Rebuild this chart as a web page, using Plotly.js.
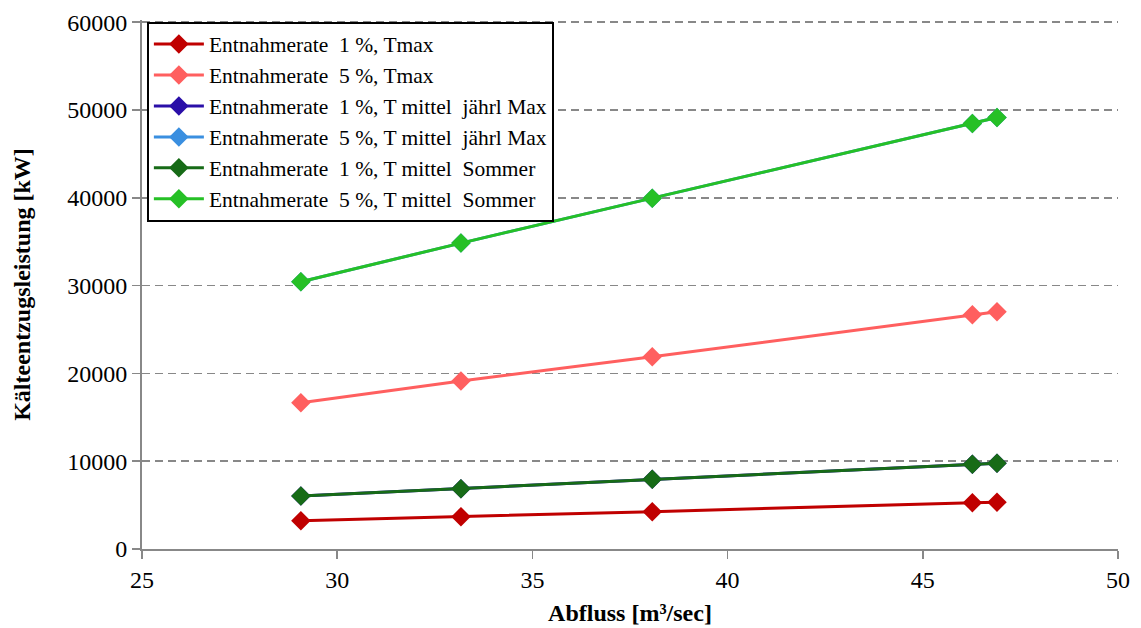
<!DOCTYPE html>
<html>
<head>
<meta charset="utf-8">
<script src="https://cdn.plot.ly/plotly-3.0.1.min.js"></script>
<style>html,body{margin:0;padding:0;background:#fff;}#chart{width:1141px;height:628px;}</style>
</head>
<body>
<div id="chart"></div>
<script>
const abfluss = [29.07, 33.17, 38.07, 46.27, 46.9];
const names = [
  "Entnahmerate  1 %, Tmax",
  "Entnahmerate  5 %, Tmax",
  "Entnahmerate  1 %, T mittel  jährl Max",
  "Entnahmerate  5 %, T mittel  jährl Max",
  "Entnahmerate  1 %, T mittel  Sommer",
  "Entnahmerate  5 %, T mittel  Sommer"
];
const e1Tmax = [3230, 3680, 4250, 5280, 5330];
const e5Tmax = [16660, 19130, 21900, 26680, 27020];
const e1Jahr = [6030, 6870, 7930, 9640, 9760];
const e5Jahr = [30430, 34840, 39960, 48470, 49150];
const e1Sommer = [6030, 6870, 7930, 9640, 9760];
const e5Sommer = [30430, 34840, 39960, 48470, 49150];
const colors = ["#C00000", "#FF5F5F", "#2A0FA8", "#3A8FE0", "#176B17", "#26C026"];
const series = [e1Tmax, e5Tmax, e1Jahr, e5Jahr, e1Sommer, e5Sommer];
const FONT = "Liberation Serif";

const traces = series.map((ys, i) => ({
  x: abfluss, y: ys, name: names[i], type: "scatter", mode: "lines+markers",
  line: {color: colors[i], width: 3},
  marker: {symbol: "diamond", size: 15, color: colors[i]},
  legendgroup: "g" + i
}));

const layout = {
  width: 1141, height: 628,
  margin: {l: 142, r: 23, t: 20, b: 79},
  paper_bgcolor: "#fff", plot_bgcolor: "#fff",
  font: {family: FONT, color: "#000"},
  showlegend: true,
  legend: {
    x: 0.005, y: 0.997, xanchor: "left", yanchor: "top",
    bgcolor: "#fff", bordercolor: "#000", borderwidth: 2,
    font: {family: FONT, size: 21.5, color: "#000"},
    tracegroupgap: 0, itemwidth: 50
  },
  xaxis: {
    range: [25, 50], tickvals: [25, 30, 35, 40, 45, 50],
    ticks: "outside", ticklen: 8, tickcolor: "#888", tickwidth: 1.5,
    showline: true, linecolor: "#888", linewidth: 2,
    showgrid: false, zeroline: false,
    tickfont: {size: 24, family: FONT},
    title: {text: "<b>Abfluss [m³/sec]</b>", font: {size: 24, family: FONT}, standoff: 12}
  },
  yaxis: {
    range: [0, 60250], tickvals: [0, 10000, 20000, 30000, 40000, 50000, 60000],
    ticktext: ["0", "10000", "20000", "30000", "40000", "50000", "60000"],
    ticks: "outside", ticklen: 8, tickcolor: "#888", tickwidth: 1.5,
    showline: true, linecolor: "#888", linewidth: 2,
    showgrid: true, gridcolor: "#888", griddash: "8px,5px", gridwidth: 1.5,
    zeroline: false,
    tickfont: {size: 24, family: FONT},
    title: {text: "<b>Kälteentzugsleistung [kW]</b>", font: {size: 24, family: FONT}, standoff: 30}
  }
};
Plotly.newPlot("chart", traces, layout, {displayModeBar: false, staticPlot: true});
</script>
</body>
</html>
